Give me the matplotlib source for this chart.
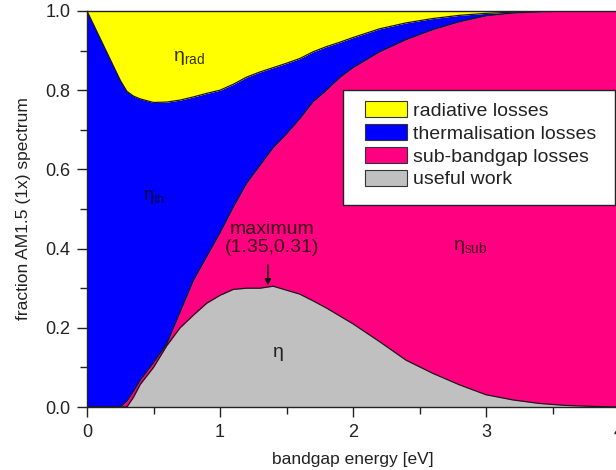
import matplotlib
matplotlib.use("Agg")
import matplotlib.pyplot as plt
from matplotlib.patches import Patch, Rectangle
from matplotlib.ticker import MultipleLocator

plt.rcParams['font.family'] = ['Liberation Sans', 'DejaVu Sans']
plt.rcParams['mathtext.fontset'] = 'custom'
plt.rcParams['mathtext.rm'] = 'Liberation Sans'
plt.rcParams['mathtext.it'] = 'Liberation Sans:italic'

# bandgap energy [eV]
energy = [0, 0.1, 0.2, 0.25, 0.3, 0.35, 0.4, 0.5, 0.6, 0.7, 0.8, 0.9, 1.0,
          1.1, 1.2, 1.3, 1.4, 1.5, 1.6, 1.7, 1.8, 1.9, 2.0, 2.2, 2.4, 2.6,
          2.8, 3.0, 3.2, 3.4, 3.6, 3.8, 4.0]
# cumulative upper boundary of "useful work"
useful_top = [0, 0, 0, 0, 0, 0.025, 0.057, 0.10, 0.155, 0.20, 0.232, 0.262,
              0.282, 0.297, 0.300, 0.300, 0.305, 0.295, 0.285, 0.268, 0.250,
              0.230, 0.210, 0.165, 0.118, 0.085, 0.056, 0.031, 0.018, 0.009,
              0.004, 0.0015, 0.0]
# cumulative upper boundary of "sub-bandgap losses"
subgap_top = [0, 0, 0, 0, 0.015, 0.04, 0.068, 0.112, 0.16, 0.24, 0.32, 0.38,
              0.44, 0.505, 0.565, 0.61, 0.655, 0.69, 0.728, 0.771, 0.80, 0.832,
              0.857, 0.897, 0.928, 0.953, 0.973, 0.988, 0.995, 0.998, 1.0,
              1.0, 1.0]
# cumulative upper boundary of "thermalisation losses"
therm_top = [1.0, 0.93, 0.86, 0.825, 0.797, 0.785, 0.778, 0.769, 0.77, 0.775,
             0.783, 0.792, 0.80, 0.815, 0.833, 0.846, 0.857, 0.868, 0.88,
             0.897, 0.91, 0.921, 0.933, 0.955, 0.970, 0.981, 0.989, 0.994,
             0.997, 0.999, 1.0, 1.0, 1.0]
total = [1.0] * len(energy)

labels = ['radiative losses', 'thermalisation losses', 'sub-bandgap losses', 'useful work']
colors = ['#FFFF00', '#0000FF', '#FF0080', '#C0C0C0']

W, H = 616, 470
fig = plt.figure(figsize=(W / 100, H / 100), dpi=100)
ax = fig.add_axes([87 / W, 63 / H, 532 / W, 396 / H])

ax.fill_between(energy, 0, useful_top, color=colors[3], lw=0)
ax.fill_between(energy, useful_top, subgap_top, color=colors[2], lw=0)
ax.fill_between(energy, subgap_top, therm_top, color=colors[1], lw=0)
ax.fill_between(energy, therm_top, total, color=colors[0], lw=0)
for b in (useful_top, subgap_top, therm_top):
    ax.plot(energy, b, color='#1a1a1a', lw=0.9)

ax.set_xlim(0, 4)
ax.set_ylim(0, 1)
ax.xaxis.set_major_locator(MultipleLocator(1))
ax.xaxis.set_minor_locator(MultipleLocator(0.5))
ax.yaxis.set_major_locator(MultipleLocator(0.2))
ax.yaxis.set_minor_locator(MultipleLocator(0.1))
ax.xaxis.set_major_formatter(matplotlib.ticker.FormatStrFormatter('%d'))
ax.yaxis.set_major_formatter(matplotlib.ticker.FormatStrFormatter('%.1f'))
ax.tick_params(which='major', direction='out', length=7, width=1, labelsize=13,
               colors='#222222', pad=5)
ax.tick_params(which='minor', direction='out', length=5, width=1, colors='#222222')
ax.tick_params(top=False, right=False, which='both')
for s in ax.spines.values():
    s.set_color('#222222')
    s.set_linewidth(1)

ax.set_xlabel('bandgap energy [eV]', fontsize=12.5, color='#222222', labelpad=8)
ax.set_ylabel('fraction AM1.5 (1x) spectrum', fontsize=12.5, color='#222222', labelpad=10)

ax.text(0.77, 0.881, r'η$_{\mathregular{rad}}$', fontsize=14, ha='center', va='center', color='#333300')
ax.text(0.50, 0.53, r'η$_{\mathregular{th}}$', fontsize=13, ha='center', va='center', color='#000044')
ax.text(1.44, 0.137, 'η', fontsize=14, ha='center', va='center', color='#222222')
ax.text(2.88, 0.404, r'η$_{\mathregular{sub}}$', fontsize=14, ha='center', va='center', color='#440022')
ax.text(1.39, 0.425, 'maximum\n(1.35,0.31)', fontsize=14, ha='center', va='center',
        color='#3a0018', linespacing=1.1)
ax.annotate('', xy=(1.36, 0.30), xytext=(1.36, 0.366),
            arrowprops=dict(arrowstyle='-|>', color='#111111', lw=1.1, mutation_scale=9))

# legend frame box
fig.patches.append(Rectangle((343 / W, 1 - 205 / H), 272 / W, 115 / H,
                             transform=fig.transFigure, facecolor='white',
                             edgecolor='#222222', lw=1, zorder=4))
handles = [Patch(facecolor=c, edgecolor='#333333', lw=0.8) for c in colors]
leg = fig.legend(handles, labels, loc='upper left', bbox_to_anchor=(365 / W, 1 - 101 / H),
                 bbox_transform=fig.transFigure, fontsize=14, frameon=False,
                 handlelength=2.15, handleheight=0.88,
                 handletextpad=0.3, labelspacing=0.22, borderpad=0, borderaxespad=0)
leg.set_zorder(5)
for t in leg.get_texts():
    t.set_color('#222222')

fig.savefig('out.png', dpi=100)
